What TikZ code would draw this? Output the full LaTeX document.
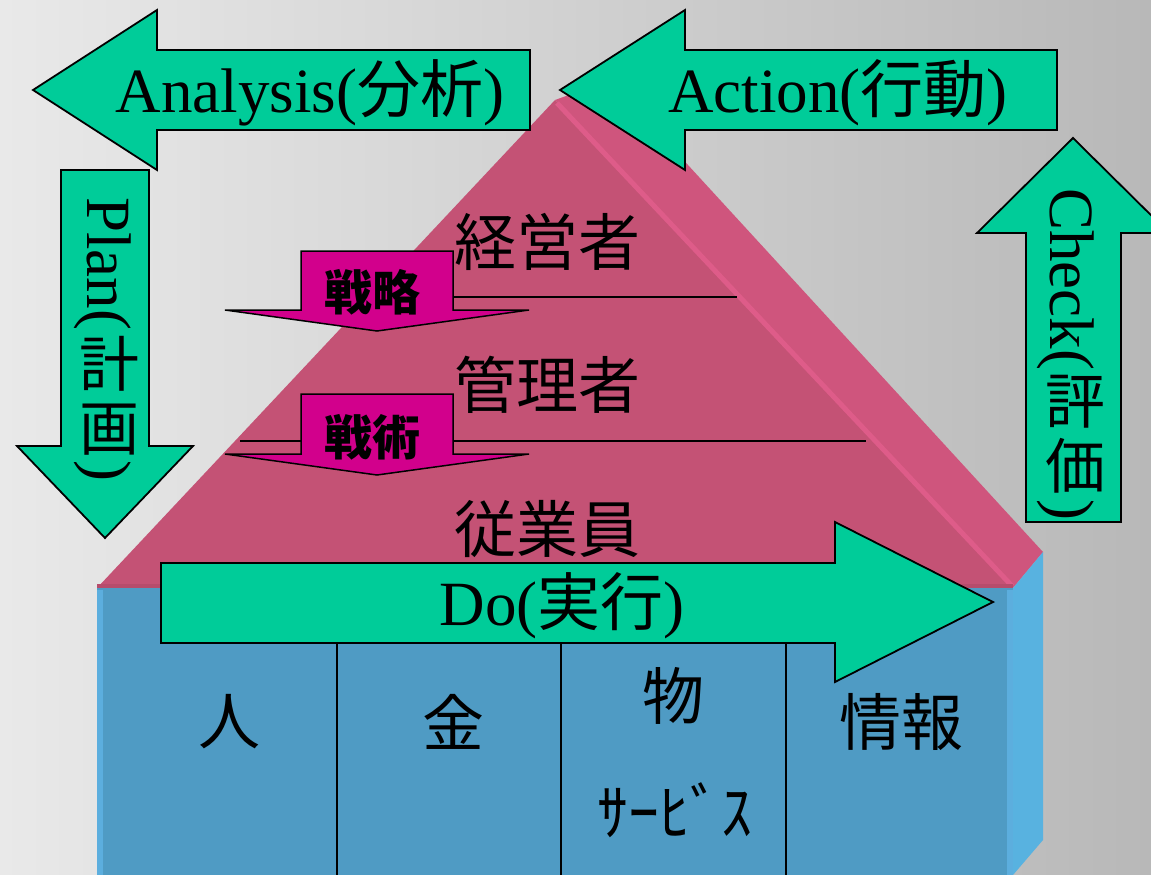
\documentclass[tikz,border=0pt]{standalone}
\usepackage{fontspec}
\setmainfont{Liberation Serif}
\newfontfamily\cjk{Noto Sans CJK JP}
\definecolor{bgL}{RGB}{233,233,233}
\definecolor{bgR}{RGB}{184,184,184}
\definecolor{grn}{RGB}{0,204,153}
\definecolor{mag}{RGB}{210,0,140}
\definecolor{roofF}{RGB}{196,82,117}
\definecolor{roofS}{RGB}{207,85,125}
\definecolor{ridgeC}{RGB}{222,92,137}
\definecolor{roofD}{RGB}{182,76,108}
\definecolor{boxF}{RGB}{79,155,196}
\definecolor{boxS}{RGB}{88,178,224}
\definecolor{boxL}{RGB}{92,174,222}
\begin{document}
\begin{tikzpicture}[x=1pt,y=-1pt,
  bigarrow/.style={fill=grn,draw=black,line width=1.8pt,line join=miter},
  smallarrow/.style={fill=mag,draw=black,line width=1.5pt,line join=miter},
  latin/.style={font=\fontsize{63}{63}\selectfont,inner sep=0pt},
  kanji/.style={font=\cjk\fontsize{62}{62}\selectfont,inner sep=0pt},
  vkanji/.style={font=\cjk\fontsize{60}{60}\selectfont,inner sep=0pt},
  tactic/.style={font=\cjk\bfseries\fontsize{48}{48}\selectfont,inner sep=0pt},
  divider/.style={draw=black,line width=1.5pt}]
\useasboundingbox (0,0) rectangle (1151,875);
\shade[left color=bgL,right color=bgR] (0,0) rectangle (1151,875);

% roof
\coordinate (apex) at (555,100);
\coordinate (apexB) at (610,80);
\coordinate (rl) at (97,588);
\coordinate (rr) at (1013,588);
\coordinate (rrB) at (1043,552);
\fill[roofS] (apex) -- (apexB) -- (rrB) -- (rr) -- cycle;
\fill[roofF] (rl) -- (apex) -- (rr) -- cycle;
\draw[ridgeC,line width=5pt] (557,103) -- (1012,586);
\fill[roofD] (97,584) rectangle (1013,590);

% house body
\fill[boxF] (97,588) rectangle (1013,875);
\fill[boxS] (rr) -- (rrB) -- (1043,840) -- (1013,875) -- cycle;
\fill[boxL] (97,590) rectangle (103,875);
\fill[boxL] (1007,590) rectangle (1013,875);

% level lines
\coordinate (l1a) at (370,297);
\coordinate (l1b) at (737,297);
\coordinate (l2a) at (240,441);
\coordinate (l2b) at (866,441);
\draw[line width=1.5pt] (l1a) -- (l1b);
\draw[line width=1.5pt] (l2a) -- (l2b);

% dividers
\coordinate (d1t) at (337,643); \coordinate (d1b) at (337,875);
\coordinate (d2t) at (561,643); \coordinate (d2b) at (561,875);
\coordinate (d3t) at (786,643); \coordinate (d3b) at (786,875);
\draw[divider] (d1t) -- (d1b);
\draw[divider] (d2t) -- (d2b);
\draw[divider] (d3t) -- (d3b);

% Do arrow
\draw[bigarrow] (161,563) -- (835,563) -- (835,522) -- (993,602) -- (835,682) -- (835,643) -- (161,643) -- cycle;

% Analysis arrow
\draw[bigarrow] (33,90) -- (157,10) -- (157,50) -- (530,50) -- (530,130) -- (157,130) -- (157,170) -- cycle;
% Action arrow
\draw[bigarrow] (560,90) -- (685,10) -- (685,50) -- (1057,50) -- (1057,130) -- (685,130) -- (685,170) -- cycle;
% Plan arrow
\draw[bigarrow] (61,170) -- (149,170) -- (149,446) -- (193,446) -- (105,538) -- (17,446) -- (61,446) -- cycle;
% Check arrow
\draw[bigarrow] (1073,138) -- (1169,233) -- (1121,233) -- (1121,522) -- (1026,522) -- (1026,233) -- (977,233) -- cycle;

% strategy arrows
\draw[smallarrow] (301,251) -- (453,251) -- (453,310) -- (529,310) -- (377,331) -- (225,310) -- (301,310) -- cycle;
\draw[smallarrow] (301,394) -- (453,394) -- (453,454) -- (529,454) -- (377,475) -- (225,454) -- (301,454) -- cycle;

% texts
\node[latin,anchor=base] (tana) at (310,112) {Analysis({\cjk 分析})};
\node[latin,anchor=base] (tact) at (838,112) {Action({\cjk 行動})};
\node[latin,anchor=base] (tdo) at (562,625) {Do({\cjk 実行})};

% vertical Plan label
\node[latin,anchor=base west,rotate=-90] (tplan) at (87,197) {Plan(};
\node[vkanji] (tplan1) at (109,364) {計};
\node[vkanji] (tplan2) at (109,430) {画};
\node[latin,anchor=base west,rotate=-90] (tplan3) at (87,460) {)};

% vertical Check label
\node[latin,anchor=base west,rotate=-90] (tchk) at (1050,188) {Check(};
\node[vkanji] (tchk1) at (1075,402) {評};
\node[vkanji] (tchk2) at (1075,466) {価};
\node[latin,anchor=base west,rotate=-90] (tchk3) at (1050,499) {)};

\node[kanji] (k1) at (547,242) {経営者};
\node[kanji] (k2) at (547,385) {管理者};
\node[kanji] (k3) at (547,529) {従業員};
\node[tactic] (s1) at (372,292) {戦略};
\node[tactic] (s2) at (372,437) {戦術};

\node[kanji] (r1) at (229,722) {人};
\node[kanji] (r2) at (453,722) {金};
\node[kanji] (r3) at (673,696) {物};
\node[kanji] (r3b) at (675,810) {ｻｰﾋﾞｽ};
\node[kanji] (r4) at (901,722) {情報};
\end{tikzpicture}
\end{document}
